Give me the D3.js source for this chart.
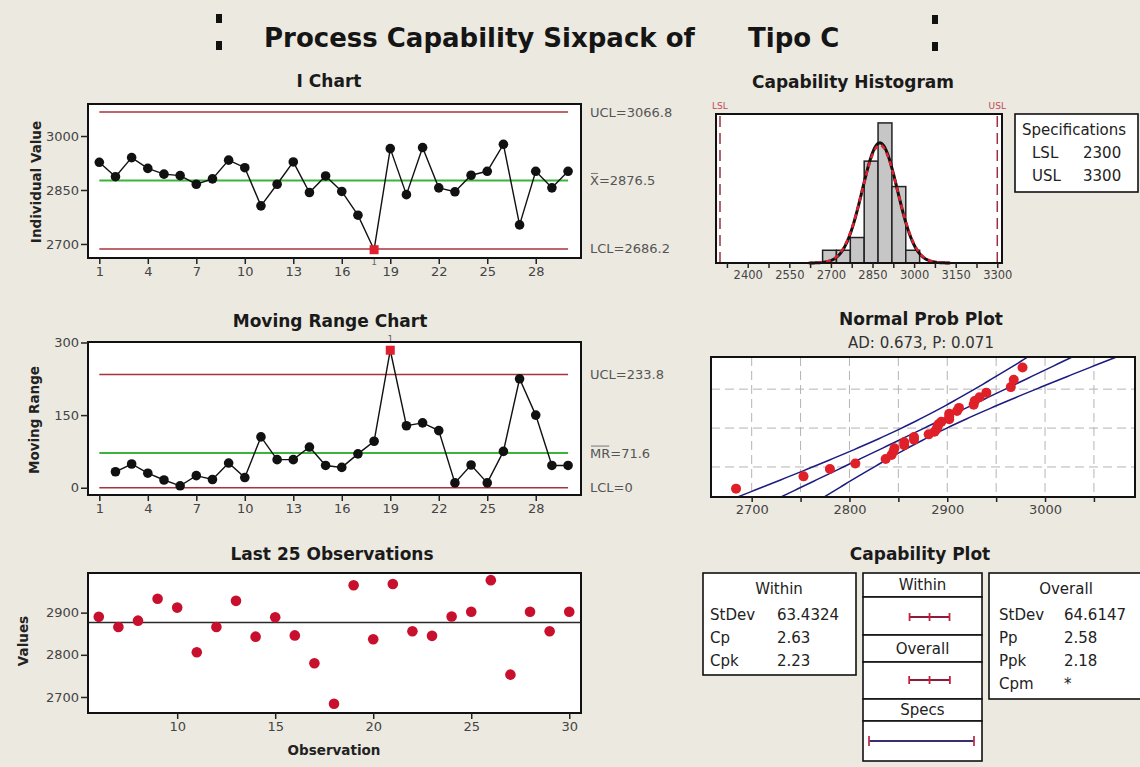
<!DOCTYPE html>
<html lang="en">

<head>
    <meta charset="UTF-8">
    <title>Process Capability Sixpack</title>
    <script src="https://d3js.org/d3.v7.min.js"></script>
    <style>
        body { margin: 0; background: #ece9e0; }
        svg { display: block; font-family: "DejaVu Sans", sans-serif; }
    </style>
</head>

<body>
    <script>
        // ---- data ----
        var titleParts = ['Process Capability Sixpack of', 'Tipo C'];
        var observations = [1, 2, 3, 4, 5, 6, 7, 8, 9, 10, 11, 12, 13, 14, 15,
            16, 17, 18, 19, 20, 21, 22, 23, 24, 25, 26, 27, 28, 29, 30];
        var values = [2927, 2887, 2940, 2910, 2894, 2890, 2866, 2881, 2933, 2912,
            2806, 2866, 2928, 2843, 2889, 2846, 2780, 2684, 2965, 2837,
            2968, 2856, 2845, 2891, 2902, 2977, 2753, 2902, 2856, 2902];
        var movingRanges = [null, 33, 49, 30, 16, 4, 25, 17, 51, 21,
            105, 58, 58, 84, 46, 42, 70, 96, 284, 128,
            134, 118, 10, 47, 10, 75, 225, 150, 46, 46];

        var iLimits = [3066.8, 2876.5, 2686.2];
        var iLimitLabels = [['', 'UCL=3066.8'], ['X', '=2876.5'], ['', 'LCL=2686.2']];
        var mrLimits = [233.8, 71.6, 0];
        var mrLimitLabels = [['', 'UCL=233.8'], ['MR', '=71.6'], ['', 'LCL=0']];

        var iTicksX = [1, 4, 7, 10, 13, 16, 19, 22, 25, 28];
        var iTicksY = [2700, 2850, 3000];
        var mrTicksY = [0, 150, 300];
        var lastTicksX = [10, 15, 20, 25, 30];
        var lastTicksY = [2700, 2800, 2900];

        var specLimits = [2300, 3300];
        var histEdges = [2670, 2720, 2770, 2820, 2870, 2920, 2970, 3020];
        var histTicks = [2325, 2400, 2475, 2550, 2625, 2700, 2775, 2850, 2925, 3000, 3075, 3150, 3225, 3300];
        var histLabelTicks = [2400, 2550, 2700, 2850, 3000, 3150, 3300];

        var processMean = 2876.5;
        var sdWithin = 63.4324;
        var sdOverall = 64.6147;

        var npTicks = [2700, 2750, 2800, 2850, 2900, 2950, 3000, 3050];
        var npLabelTicks = [2700, 2800, 2900, 3000];
        var npGridPct = [10, 50, 90];
        var adText = 'AD: 0.673, P: 0.071';

        var withinRows = [['StDev', '63.4324'], ['Cp', '2.63'], ['Cpk', '2.23']];
        var overallRows = [['StDev', '64.6147'], ['Pp', '2.58'], ['Ppk', '2.18'], ['Cpm', '*']];
        var specRows = [['LSL', '2300'], ['USL', '3300']];

        // colours
        var limitRed = '#a8323e', centerGreen = '#3cb43c', flagRed = '#e0202e';
        var dotRed = '#c8102e', navy = '#1c1c80';

        var width = 1140, height = 767;
        var svg = d3.select('body').append('svg').attr('width', width).attr('height', height);
        svg.append('rect').attr('width', width).attr('height', height).attr('fill', '#ece9e0');

        // ---- main title ----
        var tg = svg.append('g').attr('font-weight', 'bold').attr('font-size', 26).attr('fill', '#151515');
        tg.append('text').attr('x', 264).attr('y', 47).text(titleParts[0]);
        tg.append('text').attr('x', 748).attr('y', 47).text(titleParts[1]);
        [[216, 14], [216, 41], [932, 15], [932, 42]].forEach(function (p) {
            tg.append('rect').attr('x', p[0]).attr('y', p[1]).attr('width', 6).attr('height', 9).attr('fill', '#111');
        });

        function panelTitle(txt, x, y) {
            svg.append('text').attr('x', x).attr('y', y).attr('text-anchor', 'middle')
                .attr('font-weight', 'bold').attr('font-size', 17).attr('fill', '#1a1a1a').text(txt);
        }

        function yTitle(txt, x, y) {
            svg.append('text').attr('transform', 'translate(' + x + ',' + y + ') rotate(-90)')
                .attr('text-anchor', 'middle').attr('dy', '0.35em')
                .attr('font-weight', 'bold').attr('font-size', 13.5).attr('fill', '#222').text(txt);
        }

        function styleAxis(sel) {
            sel.select('.domain').remove();
            sel.attr('font-family', null).attr('font-size', 13);
            sel.selectAll('.tick line').attr('stroke', '#222').attr('stroke-width', 1.5);
            sel.selectAll('.tick text').attr('fill', '#444');
        }

        function frame(g, x0, y0, x1, y1) {
            return g.append('rect').attr('x', x0).attr('y', y0).attr('width', x1 - x0).attr('height', y1 - y0);
        }

        var plain = d3.format('d');

        // ---- I chart and moving range chart ----
        function controlChart(opt) {
            var x = d3.scaleLinear().domain([0.3, 30.8]).range([88, 581]);
            var y = d3.scaleLinear().domain(opt.yDomain).range([opt.bottom, opt.top]);
            var g = svg.append('g');
            frame(g, 88, opt.top, 581, opt.bottom).attr('fill', '#fff');

            // limit lines (UCL, center, LCL)
            opt.limits.forEach(function (v, i) {
                g.append('line').attr('x1', x(1)).attr('x2', x(30)).attr('y1', y(v)).attr('y2', y(v))
                    .attr('stroke', i == 1 ? centerGreen : limitRed).attr('stroke-width', i == 1 ? 2 : 1.6);
            });

            var pts = observations.map(function (o, i) { return { o: o, v: opt.series[i] }; })
                .filter(function (d) { return d.v != null; });
            g.append('path').datum(pts)
                .attr('d', d3.line().x(function (d) { return x(d.o); }).y(function (d) { return y(d.v); }))
                .attr('fill', 'none').attr('stroke', '#111').attr('stroke-width', 1.4);

            var out = function (d) { return d.v > opt.limits[0] || d.v < opt.limits[2]; };
            g.selectAll('circle').data(pts.filter(function (d) { return !out(d); })).join('circle')
                .attr('cx', function (d) { return x(d.o); }).attr('cy', function (d) { return y(d.v); })
                .attr('r', 4.8).attr('fill', '#111');
            var flagged = pts.filter(out);
            g.selectAll('rect.flag').data(flagged).join('rect').attr('class', 'flag')
                .attr('x', function (d) { return x(d.o) - 4.5; }).attr('y', function (d) { return y(d.v) - 4.5; })
                .attr('width', 9).attr('height', 9).attr('fill', flagRed);
            // test number next to flagged points
            g.selectAll('text.flag').data(flagged).join('text').attr('class', 'flag')
                .attr('x', function (d) { return x(d.o); })
                .attr('y', function (d) { return d.v > opt.limits[0] ? y(d.v) - 8 : y(d.v) + 15; })
                .attr('text-anchor', 'middle').attr('font-size', 9).attr('fill', '#666').text('1');

            frame(g, 88, opt.top, 581, opt.bottom).attr('fill', 'none').attr('stroke', '#111').attr('stroke-width', 2);

            g.append('g').attr('transform', 'translate(0,' + opt.bottom + ')')
                .call(d3.axisBottom(x).tickValues(iTicksX).tickSize(6).tickPadding(3)).call(styleAxis);
            g.append('g').attr('transform', 'translate(88,0)')
                .call(d3.axisLeft(y).tickValues(opt.yTicks).tickFormat(plain).tickSize(7).tickPadding(2)).call(styleAxis);

            // limit labels on the right
            opt.limits.forEach(function (v, i) {
                var parts = opt.labels[i];
                var t = g.append('text').attr('x', 590).attr('y', y(v)).attr('dy', '0.35em')
                    .attr('font-size', 13).attr('fill', '#555');
                t.append('tspan').text(parts[0]);
                t.append('tspan').text(parts[1]);
                if (parts[0]) {
                    var w = t.node().getSubStringLength(0, parts[0].length);
                    g.append('line').attr('x1', 591).attr('x2', 590 + w - 1)
                        .attr('y1', y(v) - 7).attr('y2', y(v) - 7).attr('stroke', '#777').attr('stroke-width', 1);
                }
            });
        }

        panelTitle('I Chart', 329, 87);
        controlChart({ top: 104, bottom: 258, yDomain: [2661, 3089], yTicks: iTicksY,
            series: values, limits: iLimits, labels: iLimitLabels });
        yTitle('Individual Value', 36, 182);

        panelTitle('Moving Range Chart', 330, 327);
        controlChart({ top: 342, bottom: 495, yDomain: [-15, 301], yTicks: mrTicksY,
            series: movingRanges, limits: mrLimits, labels: mrLimitLabels });
        yTitle('Moving Range', 34, 420);

        // ---- last 25 observations ----
        (function () {
            var last = observations.slice(-25);
            var x = d3.scaleLinear().domain([5.45, 30.6]).range([88, 581]);
            var y = d3.scaleLinear().domain([2662, 2994]).range([713, 573]);
            var g = svg.append('g');
            frame(g, 88, 573, 581, 713).attr('fill', '#fff');
            g.append('line').attr('x1', 88).attr('x2', 581).attr('y1', y(processMean)).attr('y2', y(processMean))
                .attr('stroke', '#2a2a2a').attr('stroke-width', 1.6);
            g.selectAll('circle').data(last).join('circle')
                .attr('cx', function (o) { return x(o); })
                .attr('cy', function (o) { return y(values[o - 1]); })
                .attr('r', 5.3).attr('fill', dotRed);
            frame(g, 88, 573, 581, 713).attr('fill', 'none').attr('stroke', '#111').attr('stroke-width', 2);
            g.append('g').attr('transform', 'translate(0,713)')
                .call(d3.axisBottom(x).tickValues(lastTicksX).tickSize(6).tickPadding(3)).call(styleAxis);
            g.append('g').attr('transform', 'translate(88,0)')
                .call(d3.axisLeft(y).tickValues(lastTicksY).tickFormat(plain).tickSize(7).tickPadding(2)).call(styleAxis);
        })();
        panelTitle('Last 25 Observations', 332, 560);
        yTitle('Values', 23, 641);
        svg.append('text').attr('x', 334).attr('y', 755).attr('text-anchor', 'middle')
            .attr('font-weight', 'bold').attr('font-size', 13.5).attr('fill', '#222').text('Observation');

        // ---- capability histogram ----
        (function () {
            var x = d3.scaleLinear().domain([2285.6, 3317]).range([716, 1002]);
            var y = d3.scaleLinear().domain([0, 11.7]).range([263, 114]);
            var g = svg.append('g');
            frame(g, 716, 114, 1002, 263).attr('fill', '#fff');

            var bins = d3.bin().domain([histEdges[0], histEdges[histEdges.length - 1]])
                .thresholds(histEdges.slice(1, -1))(values);
            g.selectAll('rect.bar').data(bins).join('rect').attr('class', 'bar')
                .attr('x', function (b) { return x(b.x0); })
                .attr('width', function (b) { return x(b.x1) - x(b.x0); })
                .attr('y', function (b) { return y(b.length); })
                .attr('height', function (b) { return y(0) - y(b.length); })
                .attr('fill', '#c6c6c6').attr('stroke', '#222').attr('stroke-width', 1.5);

            // fitted normal curves, scaled to counts
            var binW = histEdges[1] - histEdges[0];
            function curve(sd) {
                var pts = d3.range(processMean - 4 * sd, processMean + 4 * sd, 2).map(function (v) {
                    var z = (v - processMean) / sd;
                    return [v, values.length * binW * Math.exp(-z * z / 2) / (sd * Math.sqrt(2 * Math.PI))];
                });
                return d3.line().x(function (d) { return x(d[0]); }).y(function (d) { return y(d[1]); })(pts);
            }
            g.append('path').attr('d', curve(sdWithin)).attr('fill', 'none').attr('stroke', '#111').attr('stroke-width', 3);
            g.append('path').attr('d', curve(sdOverall)).attr('fill', 'none').attr('stroke', '#e0202e')
                .attr('stroke-width', 2.6).attr('stroke-dasharray', '5,4');

            // spec limits
            specLimits.forEach(function (s, i) {
                g.append('line').attr('x1', x(s)).attr('x2', x(s)).attr('y1', 116).attr('y2', 262)
                    .attr('stroke', '#9a3040').attr('stroke-width', 1.5).attr('stroke-dasharray', '11,6');
                g.append('text').attr('x', x(s)).attr('y', 109).attr('text-anchor', 'middle')
                    .attr('font-size', 9).attr('fill', '#c04858').text(i == 0 ? 'LSL' : 'USL');
            });
            frame(g, 716, 114, 1002, 263).attr('fill', 'none').attr('stroke', '#111').attr('stroke-width', 2);
            g.append('g').attr('transform', 'translate(0,263)')
                .call(d3.axisBottom(x).tickValues(histTicks).tickSize(5).tickPadding(3)
                    .tickFormat(function (v) { return histLabelTicks.indexOf(v) >= 0 ? v : ''; }))
                .call(styleAxis)
                .attr('font-size', 11.5);

            // specifications box
            var sb = svg.append('g').attr('font-size', 15).attr('fill', '#222');
            frame(sb, 1015, 114, 1138, 192).attr('fill', '#fff').attr('stroke', '#111').attr('stroke-width', 1.6);
            sb.append('text').attr('x', 1022).attr('y', 135).text('Specifications');
            specRows.forEach(function (r, i) {
                sb.append('text').attr('x', 1032).attr('y', 158 + i * 23).text(r[0]);
                sb.append('text').attr('x', 1083).attr('y', 158 + i * 23).text(r[1]);
            });
        })();
        panelTitle('Capability Histogram', 853, 88);

        // ---- normal probability plot ----
        function probit(p) {
            var a = [-3.969683028665376e+01, 2.209460984245205e+02, -2.759285104469687e+02, 1.383577518672690e+02, -3.066479806614716e+01, 2.506628277459239e+00];
            var b = [-5.447609879822406e+01, 1.615858368580409e+02, -1.556989798598866e+02, 6.680131188771972e+01, -1.328068155288572e+01];
            var c = [-7.784894002430293e-03, -3.223964580411365e-01, -2.400758277161838e+00, -2.549732539343734e+00, 4.374664141464968e+00, 2.938163982698783e+00];
            var d = [7.784695709041462e-03, 3.224671290700398e-01, 2.445134137142996e+00, 3.754408661907416e+00];
            var q, r;
            if (p < 0.02425) {
                q = Math.sqrt(-2 * Math.log(p));
                return (((((c[0] * q + c[1]) * q + c[2]) * q + c[3]) * q + c[4]) * q + c[5]) / ((((d[0] * q + d[1]) * q + d[2]) * q + d[3]) * q + 1);
            }
            if (p > 1 - 0.02425) return -probit(1 - p);
            q = p - 0.5; r = q * q;
            return (((((a[0] * r + a[1]) * r + a[2]) * r + a[3]) * r + a[4]) * r + a[5]) * q / (((((b[0] * r + b[1]) * r + b[2]) * r + b[3]) * r + b[4]) * r + 1);
        }

        (function () {
            var x = d3.scaleLinear().domain([2658.4, 3092]).range([711, 1135]);
            var y = d3.scaleLinear().domain([-2.27, 2.34]).range([497, 357]);
            var g = svg.append('g');
            frame(g, 711, 357, 1135, 497).attr('fill', '#fff');
            g.append('clipPath').attr('id', 'npclip').append('rect')
                .attr('x', 711).attr('y', 357).attr('width', 424).attr('height', 140);

            // grid
            npTicks.forEach(function (v) {
                g.append('line').attr('x1', x(v)).attr('x2', x(v)).attr('y1', 357).attr('y2', 497)
                    .attr('stroke', '#b4b4b4').attr('stroke-dasharray', '9,5');
            });
            npGridPct.forEach(function (p) {
                g.append('line').attr('x1', 711).attr('x2', 1135).attr('y1', y(probit(p / 100))).attr('y2', y(probit(p / 100)))
                    .attr('stroke', '#b4b4b4').attr('stroke-dasharray', '9,5');
            });

            // fit line and 95% bands
            var n = values.length;
            var zs = d3.range(-2.6, 2.65, 0.05);
            [-1, 0, 1].forEach(function (k) {
                var pts = zs.map(function (z) {
                    var se = sdOverall * Math.sqrt(1 / n + z * z / (2 * (n - 1)));
                    return [processMean + z * sdOverall + k * 1.96 * se, z];
                });
                g.append('path').attr('clip-path', 'url(#npclip)')
                    .attr('d', d3.line().x(function (d) { return x(d[0]); }).y(function (d) { return y(d[1]); })(pts))
                    .attr('fill', 'none').attr('stroke', navy).attr('stroke-width', 1.5);
            });

            // points at median ranks
            var sorted = values.slice().sort(d3.ascending);
            g.selectAll('circle').data(sorted).join('circle')
                .attr('cx', function (v) { return x(v); })
                .attr('cy', function (v, i) { return y(probit((i + 1 - 0.3) / (n + 0.4))); })
                .attr('r', 5).attr('fill', '#e02028');

            frame(g, 711, 357, 1135, 497).attr('fill', 'none').attr('stroke', '#111').attr('stroke-width', 2);
            g.append('g').attr('transform', 'translate(0,497)')
                .call(d3.axisBottom(x).tickValues(npTicks).tickSize(5).tickPadding(3)
                    .tickFormat(function (v) { return npLabelTicks.indexOf(v) >= 0 ? v : ''; }))
                .call(styleAxis);
        })();
        panelTitle('Normal Prob Plot', 921, 325);
        svg.append('text').attr('x', 921).attr('y', 348).attr('text-anchor', 'middle')
            .attr('font-size', 15).attr('fill', '#333').text(adText);

        // ---- capability plot ----
        panelTitle('Capability Plot', 920, 560);
        (function () {
            var g = svg.append('g').attr('font-size', 15).attr('fill', '#222');
            var x = d3.scaleLinear().domain(specLimits).range([869, 974]);

            // within box
            frame(g, 703, 573, 856, 675).attr('fill', '#fff').attr('stroke', '#111').attr('stroke-width', 1.6);
            g.append('text').attr('x', 779).attr('y', 594).attr('text-anchor', 'middle').text('Within');
            withinRows.forEach(function (r, i) {
                g.append('text').attr('x', 710).attr('y', 620 + i * 23).text(r[0]);
                g.append('text').attr('x', 777).attr('y', 620 + i * 23).text(r[1]);
            });

            // overall box (runs off the right edge)
            frame(g, 989, 573, 1150, 699).attr('fill', '#fff').attr('stroke', '#111').attr('stroke-width', 1.6);
            g.append('text').attr('x', 1066).attr('y', 594).attr('text-anchor', 'middle').text('Overall');
            overallRows.forEach(function (r, i) {
                g.append('text').attr('x', 999).attr('y', 620 + i * 23).text(r[0]);
                g.append('text').attr('x', 1064).attr('y', 620 + i * 23).text(r[1]);
            });

            // middle column
            var rows = [[573, 597, 'Within'], [597, 635], [635, 662, 'Overall'], [662, 699], [699, 721, 'Specs'], [721, 761]];
            rows.forEach(function (r) {
                frame(g, 863, r[0], 982, r[1]).attr('fill', '#fff').attr('stroke', '#111').attr('stroke-width', 1.6);
                if (r[2]) g.append('text').attr('x', 922.5).attr('y', (r[0] + r[1]) / 2).attr('dy', '0.36em')
                    .attr('text-anchor', 'middle').text(r[2]);
            });

            function interval(lo, mid, hi, yy, col, tickCol, th) {
                g.append('line').attr('x1', x(lo)).attr('x2', x(hi)).attr('y1', yy).attr('y2', yy)
                    .attr('stroke', col).attr('stroke-width', 2);
                [lo, mid, hi].forEach(function (v) {
                    if (v == null) return;
                    g.append('line').attr('x1', x(v)).attr('x2', x(v)).attr('y1', yy - th).attr('y2', yy + th)
                        .attr('stroke', tickCol).attr('stroke-width', 1.8);
                });
            }
            interval(processMean - 3 * sdWithin, processMean, processMean + 3 * sdWithin, 617, '#8a1c3c', '#c8203c', 4);
            interval(processMean - 3 * sdOverall, processMean, processMean + 3 * sdOverall, 680, '#8a1c3c', '#c8203c', 4);
            interval(specLimits[0], null, specLimits[1], 741, '#3c2c70', '#c03050', 5);
        })();
    </script>
</body>

</html>
